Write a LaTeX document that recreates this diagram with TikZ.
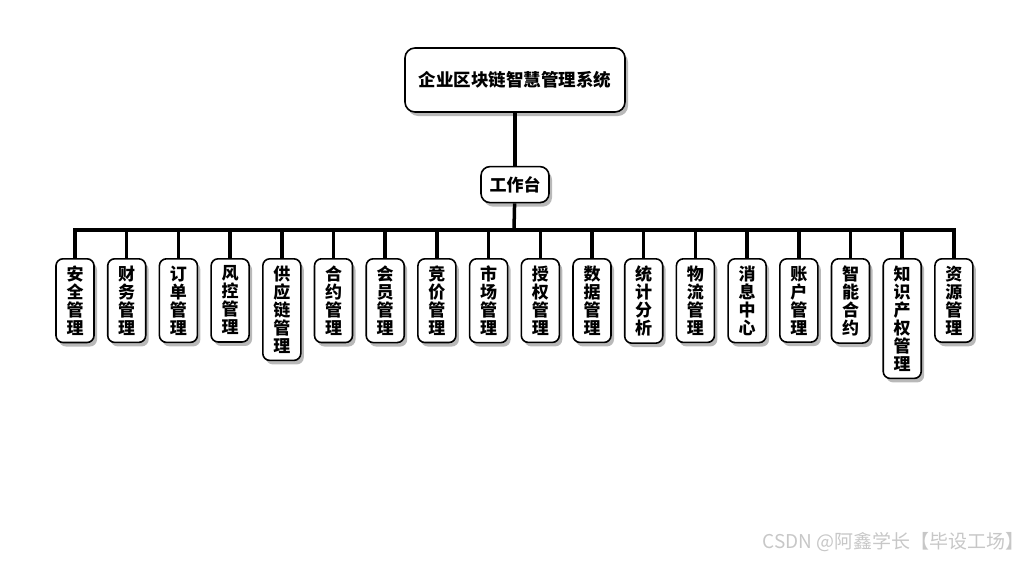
\documentclass[tikz,border=0pt]{standalone}
\usepackage{fontspec}
\newfontfamily\cjk{Noto Sans CJK SC}
\usetikzlibrary{positioning, shadows}

\begin{document}
\begin{tikzpicture}[x=1pt, y=-1pt, node distance=53pt,
    box/.style={draw, line width=1.6pt, rounded corners=9pt, fill=white,
      drop shadow={shadow xshift=3pt, shadow yshift=-4pt, fill=black!50, opacity=0.55}},
    leaf/.style={box, anchor=north, minimum width=38pt, text width=17pt, align=center,
      inner xsep=2pt, inner ysep=7pt, rounded corners=7pt,
      font=\cjk\bfseries\fontsize{17}{18}\selectfont},
    link/.style={line width=3.5pt}]

  \useasboundingbox (0,0) rectangle (1030,560);

  % top of the tree
  \node (root) [box, minimum width=220pt, minimum height=64pt, rounded corners=10pt,
    font=\cjk\bfseries\fontsize{17.5}{19}\selectfont] at (515,80) {企业区块链智慧管理系统};
  \node (desk) [box, below=of root, minimum width=68pt, minimum height=36pt,
    font=\cjk\bfseries\fontsize{17}{19}\selectfont] {工作台};
  \coordinate (bar) at (514,230);

  % modules
  \foreach \i/\t in {1/{安\\全\\管\\理}, 2/{财\\务\\管\\理}, 3/{订\\单\\管\\理},
      4/{风\\控\\管\\理}, 5/{供\\应\\链\\管\\理}, 6/{合\\约\\管\\理},
      7/{会\\员\\管\\理}, 8/{竞\\价\\管\\理}, 9/{市\\场\\管\\理},
      10/{授\\权\\管\\理}, 11/{数\\据\\管\\理}, 12/{统\\计\\分\\析},
      13/{物\\流\\管\\理}, 14/{消\\息\\中\\心}, 15/{账\\户\\管\\理},
      16/{智\\能\\合\\约}, 17/{知\\识\\产\\权\\管\\理}, 18/{资\\源\\管\\理}}
    \node (c\i) [leaf] at ({75+51.7*(\i-1)},258) {\t};

  % connectors
  \draw[link] (root) -- (desk);
  \draw[link] (desk) -- (bar);
  \draw[link] (c1.north) |- (bar) -| (c18.north);
  \foreach \i in {2,...,17}
    \draw[link] (c\i.north) -- (c\i.north |- bar);

  \node (mark) [anchor=east, text=black!22, font=\cjk\fontsize{19}{19}\selectfont]
    at (1028,542) {CSDN @阿鑫学长【毕设工场】};

\end{tikzpicture}
\end{document}
